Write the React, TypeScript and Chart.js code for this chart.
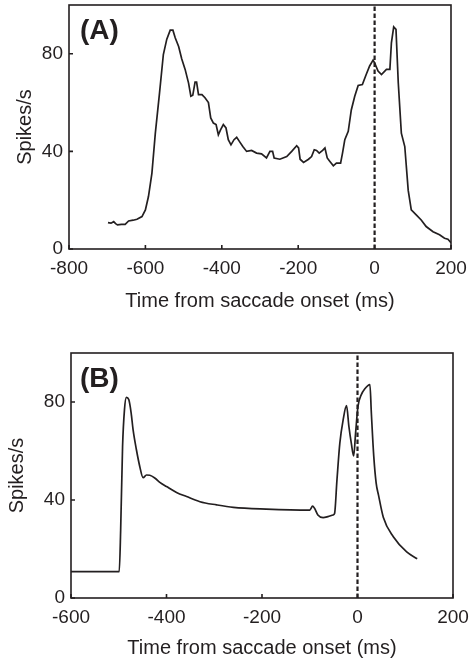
import React, { useEffect, useRef } from "react";
import { Chart, registerables } from "chart.js";

Chart.register(...registerables);

// ---------- data ----------
const timesA = [-698, -690, -683, -678, -673, -663, -653, -644, -632, -622, -609, -600, -592, -583, -574, -563, -553, -544, -535, -528, -522, -513, -505, -496, -487, -481, -476, -470, -466, -461, -452, -444, -435, -429, -422, -415, -409, -403, -396, -389, -383, -376, -368, -361, -354, -345, -335, -322, -309, -296, -283, -274, -267, -263, -248, -230, -217, -204, -199, -195, -186, -173, -165, -158, -152, -145, -136, -130, -124, -117, -108, -100, -89, -84, -78, -69, -61, -52, -43, -32, -22, -13, -4, 0, 9, 18, 31, 40, 44, 50, 56, 62, 70, 79, 88, 96, 109, 122, 135, 153, 170, 183, 192, 200];
const ratesA = [10.8, 10.6, 11.2, 10.4, 9.9, 10.1, 10.1, 11.5, 11.8, 12.2, 13.3, 16, 21.5, 31, 47.5, 64, 79.7, 86, 89.7, 89.7, 86.6, 83, 78, 73.6, 68, 62.6, 63, 68.4, 68.4, 63.3, 63.3, 62, 60, 53.7, 51.6, 51, 46.8, 48.9, 51, 49.6, 44.8, 42.7, 44.8, 45.8, 44.1, 42, 40, 40.4, 39.3, 39, 37.3, 40, 40, 37.3, 36.8, 37.9, 40, 42.3, 41.4, 36.8, 35.5, 36.8, 37.9, 40.7, 40.4, 39.3, 40.4, 41.4, 37.3, 35.9, 34.1, 35.2, 35.2, 39.3, 44.8, 48.2, 57, 62.6, 67, 67.4, 71.5, 75, 77.4, 76.3, 72.9, 71.5, 73.6, 73.6, 84.5, 91, 90, 68, 47.5, 42, 24, 16, 14, 11.9, 9.2, 7.1, 5.8, 4.4, 4, 2.6];

const timesB = [-600, -499, -496, -492, -488, -484, -479, -474, -470, -463, -456, -449, -442, -435, -424, -414, -400, -379, -358, -330, -295, -260, -191, -100, -94, -90, -83, -72, -62, -51, -48, -43, -37, -30, -23, -18, -13, -8, -4, 1, 8, 15, 26, 29, 34, 39, 44, 54, 75, 103, 125];
const ratesB = [10.8, 10.8, 27.7, 61.8, 76.9, 81.9, 81, 75.5, 68.7, 60.5, 53.7, 49.1, 50.2, 50.1, 48.9, 47.2, 45.5, 43.1, 41.4, 39.3, 38, 37, 36.3, 35.9, 37.5, 36.6, 33.9, 32.8, 33.2, 33.9, 34.5, 48.2, 63.2, 72.8, 78.5, 70, 63.2, 58, 67.3, 78.2, 83, 85.3, 87.1, 75.5, 58, 47, 42, 33, 25, 18.8, 16];

const xTicksA = [-800, -600, -400, -200, 0, 200];
const xTicksB = [-600, -400, -200, 0, 200];
const yTicks = [0, 40, 80];
const onsetTime = [0, 0];
const onsetSpan = [0, 100];

const xTitle = "Time from saccade onset (ms)";
const yTitle = "Spikes/s";

const INK = "#231f20";
const FONT = "'Liberation Sans', Arial, Helvetica, sans-serif";

type PanelSpec = {
  label: string;
  labelDx: number;
  times: number[];
  rates: number[];
  xMin: number;
  xMax: number;
  xTicks: number[];
  height: number;
  left: number;
  rightPad: number;
  topPad: number;
  bottom: number;
  yTitlePad: number;
  xTitlePad: number;
  smooth: boolean;
};

function makeChart(canvas: HTMLCanvasElement, s: PanelSpec) {
  const decor = {
    id: "decor",
    afterDraw(chart: any) {
      const { ctx, chartArea: a, scales } = chart;
      ctx.save();
      ctx.strokeStyle = INK;
      ctx.lineWidth = 1.6;
      ctx.strokeRect(a.left, a.top, a.right - a.left, a.bottom - a.top);
      ctx.beginPath();
      scales.x.ticks.forEach((t: any) => {
        const px = scales.x.getPixelForValue(t.value);
        ctx.moveTo(px, a.bottom);
        ctx.lineTo(px, a.bottom - 4);
      });
      scales.y.ticks.forEach((t: any) => {
        const py = scales.y.getPixelForValue(t.value);
        ctx.moveTo(a.left, py);
        ctx.lineTo(a.left + 4, py);
      });
      ctx.stroke();
      ctx.fillStyle = INK;
      ctx.font = `bold 28px ${FONT}`;
      ctx.textBaseline = "alphabetic";
      ctx.textAlign = "left";
      ctx.fillText(s.label, a.left + s.labelDx, a.top + 34);
      ctx.restore();
    },
  };

  return new Chart(canvas, {
    type: "line",
    data: {
      datasets: [
        {
          data: s.times.map((t, i) => ({ x: t, y: s.rates[i] })),
          borderColor: INK,
          borderWidth: 1.7,
          pointRadius: 0,
          fill: false,
          tension: 0,
          cubicInterpolationMode: s.smooth ? "monotone" : "default",
        },
        {
          data: onsetTime.map((t, i) => ({ x: t, y: onsetSpan[i] })),
          borderColor: INK,
          borderWidth: 2.2,
          borderDash: [4.5, 2.5],
          pointRadius: 0,
          fill: false,
        },
      ],
    },
    plugins: [decor],
    options: {
      animation: false,
      responsive: false,
      devicePixelRatio: 1,
      events: [],
      layout: { padding: { left: 0, right: s.rightPad, top: s.topPad, bottom: 0 } },
      plugins: { legend: { display: false }, tooltip: { enabled: false } },
      scales: {
        x: {
          type: "linear",
          min: s.xMin,
          max: s.xMax,
          afterBuildTicks: (sc: any) => {
            sc.ticks = s.xTicks.map((v) => ({ value: v }));
          },
          afterFit: (sc: any) => {
            sc.height = s.height - s.bottom;
            sc.paddingLeft = 0;
            sc.paddingRight = 0;
          },
          grid: { display: false, drawTicks: false },
          border: { display: false },
          ticks: {
            color: INK,
            font: { family: FONT, size: 19 },
            padding: 8,
            maxRotation: 0,
            autoSkip: false,
            callback: (v: any) => String(v),
          },
          title: {
            display: true,
            text: xTitle,
            color: INK,
            font: { family: FONT, size: 20 },
            padding: { top: 0, bottom: s.xTitlePad },
          },
        },
        y: {
          type: "linear",
          min: 0,
          max: 100,
          afterBuildTicks: (sc: any) => {
            sc.ticks = yTicks.map((v) => ({ value: v }));
          },
          afterFit: (sc: any) => {
            sc.width = s.left;
            sc.paddingTop = 0;
            sc.paddingBottom = 0;
          },
          grid: { display: false, drawTicks: false },
          border: { display: false },
          ticks: {
            color: INK,
            font: { family: FONT, size: 19 },
            padding: 6,
            autoSkip: false,
            callback: (v: any) => String(v),
          },
          title: {
            display: true,
            text: yTitle,
            color: INK,
            font: { family: FONT, size: 20 },
            padding: { top: s.yTitlePad, bottom: 0 },
          },
        },
      },
    },
  } as any);
}

export default function App() {
  const refA = useRef<HTMLCanvasElement>(null);
  const refB = useRef<HTMLCanvasElement>(null);

  useEffect(() => {
    const a = makeChart(refA.current!, {
      label: "(A)",
      labelDx: 11,
      times: timesA,
      rates: ratesA,
      xMin: -800,
      xMax: 200,
      xTicks: xTicksA,
      height: 330,
      left: 69,
      rightPad: 18,
      topPad: 5,
      bottom: 249,
      yTitlePad: 13,
      xTitlePad: 17,
      smooth: false,
    });
    const b = makeChart(refB.current!, {
      label: "(B)",
      labelDx: 9,
      times: timesB,
      rates: ratesB,
      xMin: -600,
      xMax: 200,
      xTicks: xTicksB,
      height: 335,
      left: 71,
      rightPad: 16,
      topPad: 23,
      bottom: 268,
      yTitlePad: 5,
      xTitlePad: 5,
      smooth: true,
    });
    return () => {
      a.destroy();
      b.destroy();
    };
  }, []);

  return (
    <div style={{ position: "absolute", left: 0, top: 0, width: 469, height: 665, background: "#fff" }}>
      <canvas ref={refA} width={469} height={330} style={{ position: "absolute", left: 0, top: 0, width: 469, height: 330 }} />
      <canvas ref={refB} width={469} height={335} style={{ position: "absolute", left: 0, top: 330, width: 469, height: 335 }} />
    </div>
  );
}
